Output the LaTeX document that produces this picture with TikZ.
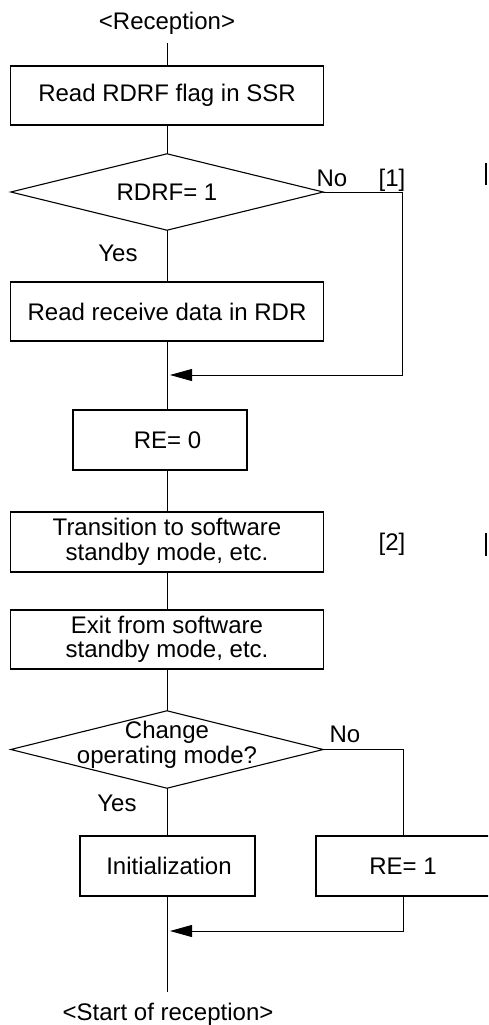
\documentclass[tikz,border=0pt]{standalone}
\usepackage{fontspec}
\setmainfont{Liberation Sans}
\usetikzlibrary{arrows.meta}
\begin{document}
\begin{tikzpicture}[x=1pt,y=-1pt,
  every node/.style={font=\fontsize{24}{24.5}\selectfont, inner sep=0pt},
  box/.style={draw, line width=1.3pt, minimum height=59pt, align=center},
  wide/.style={box, minimum width=313pt},
  dia/.style={minimum width=312pt, minimum height=76pt, align=center},
  diaedge/.style={line width=1.1pt},
  conn/.style={line width=0.9pt},
  arr/.style={conn, -{Triangle[length=22pt,width=12pt]}},
  lbl/.style={anchor=base},
  edgemark/.style={line width=1.6pt}
]
\useasboundingbox (0,0) rectangle (488,1025);
\clip (0,0) rectangle (488,1025);

% nodes
\node[lbl] (rec) at (167,30) {<Reception>};
\node[wide] (b1) at (167,95.5) {Read RDRF flag in SSR};
\node[dia] (d1) at (167,192) {RDRF= 1};
\node[wide] (b2) at (167,311.5) {Read receive data in RDR};
\node[box, minimum width=174pt, minimum height=60pt] (b3) at (160,440) {\hspace*{15pt}RE= 0};
\node[wide, minimum height=60pt] (b4) at (167,542) {Transition to software\\standby mode, etc.};
\node[wide] (b5) at (167,639.5) {Exit from software\\standby mode, etc.};
\node[dia, minimum height=77pt] (d2) at (167,749.5) {};
\node[align=center] (d2t) at (167,745) {Change\\operating mode?};
\node[box, minimum width=175pt, minimum height=60pt] (b6) at (167.5,866) {\hspace*{3pt}Initialization};
\node[box, minimum width=174pt, minimum height=60pt] (b7) at (403,866) {RE= 1};
\node[lbl] (start) at (168,1020) {<Start of reception>};

% diamonds
\draw[diaedge] (d1.north) -- (d1.east) -- (d1.south) -- (d1.west) -- cycle;
\draw[diaedge] (d2.north) -- (d2.east) -- (d2.south) -- (d2.west) -- cycle;

% labels
\node[lbl] (no1) at (332,186) {No};
\node[lbl] (n1) at (392,186) {[1]};
\node[lbl] (yes1) at (118,261) {Yes};
\node[lbl] (n2) at (392,550) {[2]};
\node[lbl] (no2) at (345,742) {No};
\node[lbl] (yes2) at (117,811) {Yes};

% coordinates
\coordinate (top) at (167,43);
\coordinate (j1) at (170,375);
\coordinate (r1) at (402,375);
\coordinate (j2) at (170,931);
\coordinate (bot) at (167,992);

% connectors
\draw[conn] (top) -- (b1.north);
\draw[conn] (b1.south) -- (d1.north);
\draw[conn] (d1.south) -- (b2.north);
\draw[conn] (b2.south) -- (b2.south |- b3.north);
\draw[arr] (d1.east) -| (r1) -- (j1);
\draw[conn] (b2.south |- b3.south) -- (b4.north);
\draw[conn] (b4.south) -- (b5.north);
\draw[conn] (b5.south) -- (d2.north);
\draw[conn] (d2.south) -- (d2.south |- b6.north);
\draw[conn] (d2.east) -| (b7.north);
\draw[conn] (d2.south |- b6.south) -- (bot);
\draw[arr] (b7.south) |- (j2);

% cut-off marks at right edge
\draw[edgemark] (486,163) -- (486,185);
\draw[edgemark] (486,533) -- (486,556);
\end{tikzpicture}
\end{document}
